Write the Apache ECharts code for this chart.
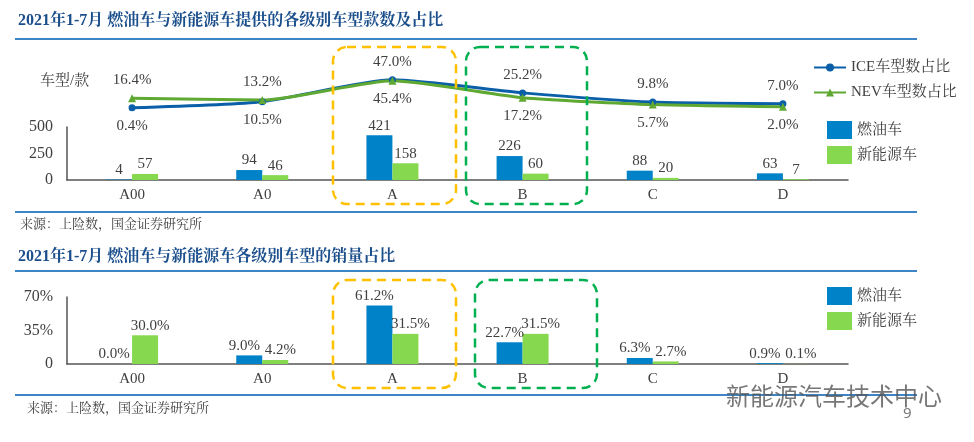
<!DOCTYPE html><html><head><meta charset="utf-8">
<script src="https://cdn.jsdelivr.net/npm/echarts@6/dist/echarts.min.js"></script>
<style>body{margin:0;background:#fff}#c{width:974px;height:442px}</style></head><body><div id="c"></div>
<script>
const categories=['A00','A0','A','B','C','D'];
const iceCount=[4,94,421,226,88,63];
const nevCount=[57,46,158,60,20,7];
const iceShare=[0.4,10.5,47.0,25.2,9.8,7.0];
const nevShare=[16.4,13.2,45.4,17.2,5.7,2.0];
const iceSales=[0.0,9.0,61.2,22.7,6.3,0.9];
const nevSales=[30.0,4.2,31.5,31.5,2.7,0.1];
const countTicks=[0,250,500];
const salesTicks=[0,35,70];

const F="'Liberation Serif','Noto Serif CJK SC','Noto Sans CJK SC',serif";
const TC='#404040';
const BLUE='#0082c8',GREEN='#86d84e',LB='#0a5fa8',LG='#5fa832';
const chart=echarts.init(document.getElementById('c'));
function lineData(a,b){return a.map((v,i)=>({value:v,label:{position:v>=b[i]?'top':'bottom'}}));}
const xa=(g,show)=>({type:'category',gridIndex:g,data:categories,show:show,
  axisLine:{lineStyle:{color:'#555',width:1.5}},axisTick:{show:false},
  axisLabel:{color:TC,fontFamily:F,fontSize:15,margin:8}});
const lbl=(fmt,fs,off)=>({show:true,position:'top',distance:2,color:TC,fontFamily:F,fontSize:fs||15,formatter:fmt,offset:off||[0,0]});
const rr=(x,y,w,h,c)=>({type:'rect',shape:{x:x,y:y,width:w,height:h,r:14},style:{fill:null,stroke:c,lineWidth:2.5,lineDash:[9,6]},z:10});
const rule=y=>({type:'line',shape:{x1:15,y1:y,x2:917,y2:y},style:{stroke:'#3d85c6',lineWidth:2}});
const txt=(x,y,t,o)=>({type:'text',x:x,y:y,style:Object.assign({text:t,fill:TC,font:'13px '+F},o||{})});
const pct=p=>p.value.toFixed(1)+'%';
chart.setOption({
  animation:false,
  grid:[{left:67,top:127,width:781,height:53},{left:67,top:78,width:781,height:60},{left:67,top:297,width:781,height:67}],
  xAxis:[xa(0,true),xa(1,false),xa(2,true)],
  yAxis:[
    {type:'value',gridIndex:0,min:0,max:500,interval:250,splitLine:{show:false},axisLine:{show:true,lineStyle:{color:'#555',width:1.5}},axisLabel:{color:TC,fontFamily:F,fontSize:16,margin:14}},
    {type:'value',gridIndex:1,min:-50,max:50,show:false},
    {type:'value',gridIndex:2,min:0,max:70,interval:35,splitLine:{show:false},axisLine:{show:true,lineStyle:{color:'#555',width:1.5}},axisLabel:{color:TC,fontFamily:F,fontSize:16,margin:14,formatter:v=>v===0?'0':v+'%'}}
  ],
  legend:[
    {data:['ICE车型数占比','NEV车型数占比'],orient:'vertical',left:808,top:55,itemWidth:32,itemHeight:10,itemGap:10,textStyle:{color:TC,fontFamily:F,fontSize:15}},
    {data:['燃油车','新能源车'],orient:'vertical',left:822,top:116,itemWidth:25,itemHeight:18,itemGap:7,icon:'rect',textStyle:{color:TC,fontFamily:F,fontSize:15}},
    {data:['燃油车','新能源车'],orient:'vertical',left:822,top:282,itemWidth:25,itemHeight:18,itemGap:7,icon:'rect',textStyle:{color:TC,fontFamily:F,fontSize:15}}
  ],
  series:[
    {name:'燃油车',type:'bar',xAxisIndex:0,yAxisIndex:0,data:iceCount,barWidth:26,barGap:'0%',itemStyle:{color:BLUE},label:lbl('{c}')},
    {name:'新能源车',type:'bar',xAxisIndex:0,yAxisIndex:0,data:nevCount,barWidth:26,barGap:'0%',itemStyle:{color:GREEN},label:lbl('{c}')},
    {name:'ICE车型数占比',type:'line',xAxisIndex:1,yAxisIndex:1,data:lineData(iceShare,nevShare),smooth:0.2,symbol:'circle',symbolSize:7,color:LB,lineStyle:{width:3,color:LB},label:Object.assign(lbl(pct),{distance:7})},
    {name:'NEV车型数占比',type:'line',xAxisIndex:1,yAxisIndex:1,data:lineData(nevShare,iceShare),smooth:0.2,symbol:'triangle',symbolSize:8,color:LG,lineStyle:{width:3,color:LG},label:Object.assign(lbl(pct),{distance:7})},
    {name:'燃油车',type:'bar',xAxisIndex:2,yAxisIndex:2,data:iceSales,barWidth:26,barGap:'0%',itemStyle:{color:BLUE},label:lbl(pct,15,[-5,0])},
    {name:'新能源车',type:'bar',xAxisIndex:2,yAxisIndex:2,data:nevSales,barWidth:26,barGap:'0%',itemStyle:{color:GREEN},label:lbl(pct,15,[5,0])}
  ],
  graphic:[
    txt(18,13,'2021年1-7月 燃油车与新能源车提供的各级别车型款数及占比',{fill:'#1b4f8c',font:'bold 16px '+F}),
    rule(39),rule(212),rule(271),rule(395),
    txt(40,74,'车型/款',{font:'15px '+F}),
    txt(20,218,'来源：上险数，国金证券研究所'),
    txt(18,249,'2021年1-7月 燃油车与新能源车各级别车型的销量占比',{fill:'#1b4f8c',font:'bold 16px '+F}),
    txt(27,402,'来源：上险数，国金证券研究所'),
    rr(333,47,123,157,'#ffc000'),rr(466,47,121,157,'#00b050'),
    rr(333,280,123,108,'#ffc000'),rr(475,280,122,108,'#00b050'),
    txt(726,384,'新能源汽车技术中心',{fill:'#555',font:'24px "Noto Sans CJK SC"',opacity:0.8}),
    txt(903,406,'9',{fill:'#777',font:'15px "Noto Sans"'})
  ]
});
</script></body></html>
